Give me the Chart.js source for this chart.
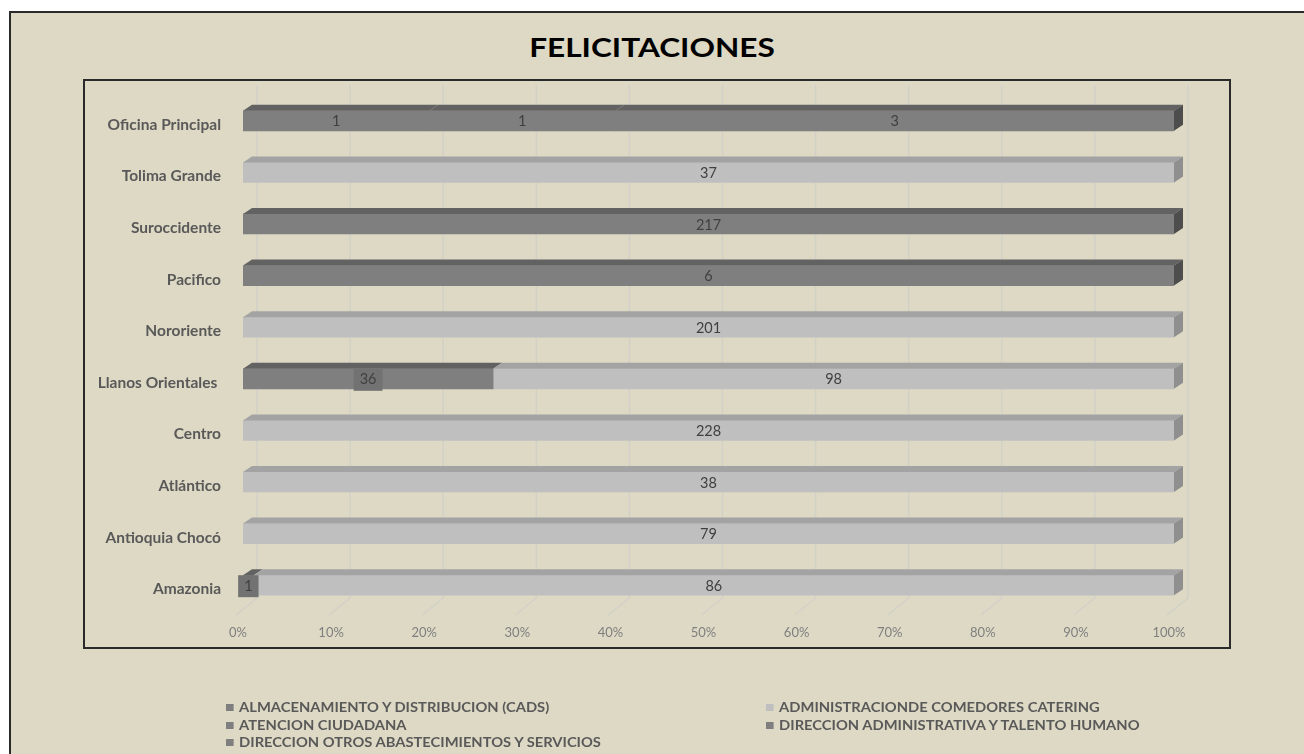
<!DOCTYPE html>
<html>
<head>
<meta charset="utf-8">
<script src="https://cdn.jsdelivr.net/npm/chart.js@4.4.1/dist/chart.umd.min.js"></script>
<style>
  html,body{margin:0;padding:0;background:#ffffff;width:1304px;height:754px;overflow:hidden;font-family:Lato, "Open Sans", sans-serif;}
  #outer{position:absolute;left:9px;top:11px;width:1400px;height:800px;border:2px solid #2a2a2a;background:#ddd9c4;box-sizing:border-box;}
  #plotbox{position:absolute;left:83px;top:79px;width:1148px;height:570px;border:2px solid #2a2a2a;box-sizing:border-box;background:#ddd9c4;}
  #title{position:absolute;left:0;width:1304px;top:30px;text-align:center;font:bold 27px Lato, sans-serif;color:#000;line-height:34px;transform:scaleX(1.17);transform-origin:652px 0;}
  canvas{position:absolute;left:0;top:0;}
  .lg{position:absolute;font:bold 13.5px Lato, sans-serif;color:#595959;line-height:16px;white-space:nowrap;transform:scaleX(1.09);transform-origin:0 0;}
  .lg i{position:absolute;width:7px;height:7px;top:5px;}
</style>
</head>
<body>
<div id="outer"></div>
<div id="plotbox"></div>
<div id="title">FELICITACIONES</div>
<canvas id="c" width="1304" height="754"></canvas>
<div id="legend"></div>
<script>
// ---- data ----
const categories = ['Oficina Principal','Tolima Grande','Suroccidente','Pacifico','Nororiente','Llanos Orientales ','Centro','Atlántico','Antioquia Chocó','Amazonia'];
const seriesNames = ['ALMACENAMIENTO Y DISTRIBUCION (CADS)','ADMINISTRACIONDE COMEDORES CATERING','ATENCION CIUDADANA','DIRECCION ADMINISTRATIVA Y TALENTO HUMANO','DIRECCION OTROS ABASTECIMIENTOS Y SERVICIOS'];
const almacenamiento = [null, null, 217, 6, null, 36, null, null, null, 1];
const comedores      = [null, 37, null, null, 201, 98, 228, 38, 79, 86];
const atencion       = [1, null, null, null, null, null, null, null, null, null];
const dirAdmin       = [1, null, null, null, null, null, null, null, null, null];
const dirOtros       = [3, null, null, null, null, null, null, null, null, null];
const tickValues = [0,10,20,30,40,50,60,70,80,90,100];

const seriesValues = [almacenamiento, comedores, atencion, dirAdmin, dirOtros];
const DARK = {front:'#7f7f7f', top:'#626262', side:'#4d4d4d', box:'#727272'};
const LIGHT = {front:'#bfbfbf', top:'#a3a3a3', side:'#8f8f8f', box:'#b3b3b3'};
const palettes = [DARK, LIGHT, DARK, DARK, DARK];

const totals = categories.map((_, i) => seriesValues.reduce((s, arr) => s + (arr[i] || 0), 0));

const datasets = seriesValues.map((arr, k) => ({
  label: seriesNames[k],
  raw: arr,
  pal: palettes[k],
  data: arr.map((v, i) => v ? v / totals[i] * 100 : null),
  backgroundColor: palettes[k].front,
  borderWidth: 0,
  barThickness: 20
}));

// legend (HTML, row-major in two columns)
const lg = document.getElementById('legend');
seriesNames.forEach((n, k) => {
  const col = k % 2, row = Math.floor(k / 2);
  const d = document.createElement('div');
  d.className = 'lg';
  d.style.left = (col ? 766 : 226) + 'px';
  d.style.top = (699 + row * 17.5) + 'px';
  d.style.paddingLeft = '12px';
  d.innerHTML = '<i style="left:0;background:' + palettes[k].front + '"></i>' + n;
  lg.appendChild(d);
});

const DX = 9, DY = -6;

const gridPlugin = {
  id: 'grid3d',
  beforeDatasetsDraw(chart) {
    const ctx = chart.ctx, xs = chart.scales.x, a = chart.chartArea;
    ctx.save();
    ctx.strokeStyle = '#d2d1c8';
    ctx.lineWidth = 1.5;
    tickValues.forEach(v => {
      const x = xs.getPixelForValue(v);
      ctx.beginPath();
      ctx.moveTo(x - 7, a.bottom + 4);
      ctx.lineTo(x + 14, a.bottom - 13);
      ctx.lineTo(x + 14, a.top - 10);
      ctx.stroke();
    });
    ctx.restore();
  }
};

const facePlugin = {
  id: 'faces3d',
  afterDatasetsDraw(chart) {
    const ctx = chart.ctx;
    const n = chart.data.datasets.length;
    const lastIdx = categories.map(() => -1);
    ctx.save();
    for (let k = 0; k < n; k++) {
      const meta = chart.getDatasetMeta(k);
      const ds = chart.data.datasets[k];
      meta.data.forEach((el, i) => {
        if (ds.data[i] == null) return;
        lastIdx[i] = k;
        const l = Math.min(el.x, el.base), r = Math.max(el.x, el.base);
        const t = el.y - el.height / 2;
        ctx.fillStyle = ds.pal.top;
        ctx.beginPath();
        ctx.moveTo(l, t); ctx.lineTo(l + DX, t + DY); ctx.lineTo(r + DX, t + DY); ctx.lineTo(r, t);
        ctx.closePath(); ctx.fill();
      });
    }
    // side faces at end of each row
    lastIdx.forEach((k, i) => {
      if (k < 0) return;
      const el = chart.getDatasetMeta(k).data[i];
      const ds = chart.data.datasets[k];
      const r = Math.max(el.x, el.base);
      const t = el.y - el.height / 2, b = el.y + el.height / 2;
      ctx.fillStyle = ds.pal.side;
      ctx.beginPath();
      ctx.moveTo(r, t); ctx.lineTo(r + DX, t + DY); ctx.lineTo(r + DX, b + DY); ctx.lineTo(r, b);
      ctx.closePath(); ctx.fill();
    });
    // value labels
    ctx.font = '14.5px Lato, sans-serif';
    ctx.textAlign = 'center';
    ctx.textBaseline = 'middle';
    for (let k = 0; k < n; k++) {
      const meta = chart.getDatasetMeta(k);
      const ds = chart.data.datasets[k];
      meta.data.forEach((el, i) => {
        if (ds.data[i] == null) return;
        const cx = (el.x + el.base) / 2, cy = el.y + 1;
        const txt = String(ds.raw[i]);
        // boxed labels for small first-series segments sharing a row with the catering series
        if (k === 0 && comedores[i]) {
          const w = ctx.measureText(txt).width + 12;
          ctx.fillStyle = ds.pal.box;
          ctx.fillRect(cx - w / 2, el.y - el.height / 2, w, el.height + 2);
        }
        ctx.fillStyle = '#404040';
        ctx.fillText(txt, cx, cy);
      });
    }
    ctx.restore();
  }
};

new Chart(document.getElementById('c'), {
  type: 'bar',
  data: { labels: categories, datasets },
  options: {
    indexAxis: 'y',
    responsive: false,
    animation: false,
    devicePixelRatio: 1,
    layout: { padding: { left: 0, right: 130, top: 95, bottom: 0 } },
    plugins: { legend: { display: false }, tooltip: { enabled: false }, title: { display: false } },
    scales: {
      x: {
        stacked: true, min: 0, max: 100,
        afterBuildTicks: s => { s.ticks = tickValues.map(v => ({ value: v })); },
        afterFit: s => { s.height = 143; },
        grid: { display: false, drawTicks: false },
        border: { display: false },
        ticks: {
          callback: v => v + '%',
          color: '#7f7f7f',
          font: { family: 'Lato', size: 13 },
          padding: 14,
          labelOffset: -5,
          maxRotation: 0
        }
      },
      y: {
        stacked: true,
        afterFit: s => { s.width = 243; },
        grid: { display: false, drawTicks: false },
        border: { display: false },
        ticks: {
          color: '#595959',
          font: { family: 'Lato', size: 15.5, weight: 'bold' },
          padding: 22,
          labelOffset: 4
        }
      }
    }
  },
  plugins: [gridPlugin, facePlugin]
});
</script>
</body>
</html>
